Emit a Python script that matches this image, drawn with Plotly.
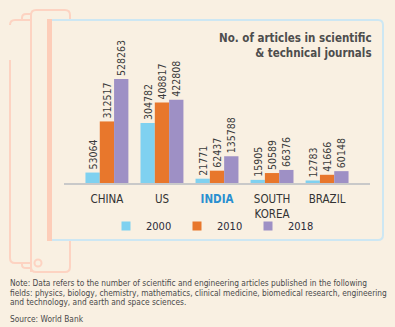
import plotly.graph_objects as go

countries = ["CHINA", "US", "INDIA", "SOUTH<br>KOREA", "BRAZIL"]
tick_text = ["CHINA", "US", "<b><span style='color:#2a8fd0'>INDIA</span></b>", "SOUTH<br>KOREA", "BRAZIL"]
years = ["2000", "2010", "2018"]
v2000 = [53064, 304782, 21771, 15905, 12783]
v2010 = [312517, 408817, 62437, 50589, 41666]
v2018 = [528263, 422808, 135788, 66376, 60148]
colors = ["#7fd1f0", "#e8772c", "#9e90c5"]

W, H = 395, 327
BG = "#f9f0e2"
FONT = "DejaVu Sans Condensed, Liberation Sans Narrow, Roboto, sans-serif"

def px(x):
    return x / W
def py(y):
    return 1 - y / H

fig = go.Figure()
legend_names = ["legend", "legend2", "legend3"]
for yr, vals, c, lg in zip(years, [v2000, v2010, v2018], colors, legend_names):
    fig.add_trace(go.Bar(
        x=countries, y=vals, marker_color=c, marker_line_width=0,
        text=[f"{v}" for v in vals], textposition="outside", textangle=-90,
        constraintext="none",
        textfont=dict(size=10.5, color="#3a3a3a", family=FONT),
        cliponaxis=False, showlegend=False, name=yr))
    fig.add_trace(go.Scatter(x=[None], y=[None], mode="markers", name=yr, legend=lg,
                             marker=dict(symbol="square", size=9, color=c)))

# little triangles under axis
fig.add_trace(go.Scatter(x=countries, y=[-26000] * 5, mode="markers",
                         marker=dict(symbol="triangle-down", size=8, color="#c9c9c9"),
                         cliponaxis=False, showlegend=False, hoverinfo="skip"))

shapes = []
sal = "#fdd3c2"
# decorative tablets
shapes.append(dict(type="path", xref="paper", yref="paper", layer="below",
                   path=f"M {px(10)},{py(60)} L {px(10)},{py(258)} Q {px(10)},{py(263)} {px(15)},{py(263)} L {px(30)},{py(263)} "
                        f"M {px(10)},{py(25)} Q {px(10)},{py(20)} {px(15)},{py(20)} L {px(30)},{py(20)}",
                   line=dict(color=sal, width=2)))
shapes.append(dict(type="path", xref="paper", yref="paper", layer="below",
                   path=f"M {px(22)},{py(20)} L {px(22)},{py(18)} Q {px(22)},{py(14)} {px(26)},{py(14)} L {px(31)},{py(14)} "
                        f"M {px(22)},{py(263)} L {px(22)},{py(265)} Q {px(22)},{py(268)} {px(26)},{py(268)} L {px(31)},{py(268)}",
                   line=dict(color=sal, width=2)))
shapes.append(dict(type="path", xref="paper", yref="paper", layer="below",
                   path=f"M {px(31)},{py(272)} L {px(31)},{py(15)} Q {px(31)},{py(10)} {px(36)},{py(10)} L {px(65)},{py(10)} "
                        f"Q {px(70)},{py(10)} {px(70)},{py(15)} L {px(70)},{py(267)} Q {px(70)},{py(272)} {px(65)},{py(272)} L {px(36)},{py(272)} Q {px(31)},{py(272)} {px(31)},{py(267)}",
                   line=dict(color=sal, width=2)))
shapes.append(dict(type="circle", xref="paper", yref="paper", layer="below",
                   x0=px(34.5), x1=px(41.5), y0=py(266.5), y1=py(259.5),
                   line=dict(color=sal, width=2)))
# panel
shapes.append(dict(type="path", xref="paper", yref="paper", layer="below",
                   path=f"M {px(50)},{py(20)} L {px(378)},{py(20)} Q {px(383)},{py(20)} {px(383)},{py(25)} L {px(383)},{py(235)} "
                        f"Q {px(383)},{py(240)} {px(378)},{py(240)} L {px(50)},{py(240)} Z",
                   fillcolor=BG, line=dict(color="#cde7f3", width=2)))
shapes.append(dict(type="rect", xref="paper", yref="paper", layer="below",
                   x0=px(47), x1=px(52), y0=py(241), y1=py(19),
                   fillcolor="#fdcdb9", line=dict(width=0)))

annotations = [
    dict(text="No. of articles in scientific<br>& technical journals", x=px(374), y=py(45),
         xref="paper", yref="paper", xanchor="right", yanchor="middle", align="right",
         showarrow=False, font=dict(size=11.5, color="#4d4d4d", family=FONT, weight="bold")),
]
notes = ["Note: Data refers to the number of scientific and engineering articles published in the following",
         "fields: physics, biology, chemistry, mathematics, clinical medicine, biomedical research, engineering",
         "and technology, and earth and space sciences."]
for i, t in enumerate(notes):
    annotations.append(dict(text=t, x=px(8), y=py(283 + i * 9.7), xref="paper", yref="paper",
                            xanchor="left", yanchor="middle", showarrow=False,
                            font=dict(size=8.3, color="#4a4a4a", family=FONT)))
annotations.append(dict(text="Source: World Bank", x=px(8), y=py(319), xref="paper", yref="paper",
                        xanchor="left", yanchor="middle", showarrow=False,
                        font=dict(size=8.3, color="#4a4a4a", family=FONT)))

leg_common = dict(orientation="h", yanchor="middle", y=py(226),
                  font=dict(size=11, color="#2b2b3a", family=FONT),
                  bgcolor="rgba(0,0,0,0)", xanchor="left")
fig.update_layout(
    width=W, height=H, margin=dict(l=0, r=0, t=0, b=0),
    paper_bgcolor=BG, plot_bgcolor="rgba(0,0,0,0)",
    barmode="group", bargap=0.22, bargroupgap=0,
    shapes=shapes, annotations=annotations,
    xaxis=dict(domain=[px(64), px(370)], range=[-0.78, 4.78], type="category",
               tickvals=countries, ticktext=tick_text, showline=True, linecolor="#c9c9c9",
               linewidth=1.5, ticks="", showgrid=False, ticklabelstandoff=4,
               tickfont=dict(size=11.5, color="#333333", family=FONT)),
    yaxis=dict(domain=[py(183), py(40)], range=[0, 726000], visible=False),
    legend=dict(leg_common, x=px(106)),
    legend2=dict(leg_common, x=px(177)),
    legend3=dict(leg_common, x=px(248)),
    font=dict(family=FONT),
)
fig.write_html("out.html")
